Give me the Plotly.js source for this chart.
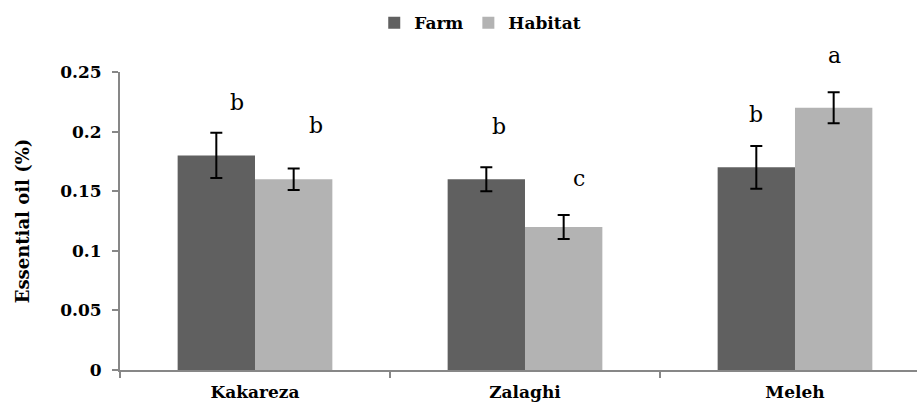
<!DOCTYPE html>
<html>
<head>
<meta charset="utf-8">
<script src="https://cdn.plot.ly/plotly-3.0.1.min.js"></script>
<style>
  html, body { margin: 0; padding: 0; background: #ffffff; }
  #chart { width: 917px; height: 403px; }
</style>
</head>
<body>
<div id="chart"></div>
<script>
// ---- data ----
var categories = ['Kakareza', 'Zalaghi', 'Meleh'];
var farmValues = [0.18, 0.16, 0.17];
var farmErrors = [0.019, 0.01, 0.018];
var habitatValues = [0.16, 0.12, 0.22];
var habitatErrors = [0.009, 0.01, 0.013];
var farmLetters = ['b', 'b', 'b'];
var habitatLetters = ['b', 'c', 'a'];
var seriesNames = ['Farm', 'Habitat'];
var yTickValues = [0, 0.05, 0.1, 0.15, 0.2, 0.25];
var yTickLabels = ['0', '0.05', '0.1', '0.15', '0.2', '0.25'];

// ---- styles ----
var serif = '"DejaVu Serif", serif';
var farmColor = '#606060';
var habitatColor = '#b3b3b3';
var axisColor = '#878787';
var farmLetterShift = { x: [21, 13, 0], y: [30, 41, 31] };
var habitatLetterShift = { x: [22, 15, 1], y: [43, 37, 37] };
var groupOffset = 0.143; // half group offset in category units

function errBar(arr) {
  return { type: 'data', array: arr, visible: true, color: '#000000', thickness: 2, width: 6 };
}

var traces = [
  {
    type: 'bar', name: seriesNames[0], x: categories, y: farmValues,
    marker: { color: farmColor }, error_y: errBar(farmErrors)
  },
  {
    type: 'bar', name: seriesNames[1], x: categories, y: habitatValues,
    marker: { color: habitatColor }, error_y: errBar(habitatErrors)
  }
];

var annotations = [];
categories.forEach(function (c, i) {
  annotations.push({
    xref: 'x', yref: 'y', x: i - groupOffset, y: farmValues[i] + farmErrors[i],
    text: farmLetters[i], showarrow: false, xanchor: 'center', yanchor: 'middle',
    xshift: farmLetterShift.x[i], yshift: farmLetterShift.y[i],
    font: { family: serif, size: 22, color: '#000000' }
  });
  annotations.push({
    xref: 'x', yref: 'y', x: i + groupOffset, y: habitatValues[i] + habitatErrors[i],
    text: habitatLetters[i], showarrow: false, xanchor: 'center', yanchor: 'middle',
    xshift: habitatLetterShift.x[i], yshift: habitatLetterShift.y[i],
    font: { family: serif, size: 22, color: '#000000' }
  });
});

var layout = {
  width: 917, height: 403,
  margin: { l: 120, r: 0, t: 72, b: 33, pad: 0 },
  paper_bgcolor: '#ffffff', plot_bgcolor: '#ffffff',
  font: { family: serif, color: '#000000' },
  barmode: 'group', bargap: 0.427, bargroupgap: 0,
  showlegend: true,
  legend: {
    orientation: 'h', x: 0.452, xanchor: 'center', y: 1.164, yanchor: 'middle',
    font: { family: serif, size: 17, color: '#000000', weight: 'bold' },
    itemwidth: 30, tracegroupgap: 0, bgcolor: 'rgba(0,0,0,0)'
  },
  xaxis: {
    type: 'category', range: [-0.5, 2.4519], fixedrange: true,
    showline: true, linecolor: axisColor, linewidth: 2,
    ticks: 'outside', tickson: 'boundaries', ticklen: 6, tickcolor: axisColor, tickwidth: 2,
    showgrid: false, zeroline: false,
    ticklabelstandoff: 6,
    tickfont: { family: serif, size: 17, color: '#000000', weight: 'bold' }
  },
  yaxis: {
    range: [0, 0.25], fixedrange: true,
    tickvals: yTickValues, ticktext: yTickLabels,
    showline: true, linecolor: axisColor, linewidth: 2,
    ticks: 'outside', ticklen: 6, tickcolor: axisColor, tickwidth: 2,
    showgrid: false, zeroline: false,
    ticklabelstandoff: 7,
    tickfont: { family: serif, size: 17, color: '#000000', weight: 'bold' },
    title: { text: 'Essential oil (%)', standoff: 26,
             font: { family: serif, size: 18, color: '#000000', weight: 'bold' } }
  },
  annotations: annotations
};

Plotly.newPlot('chart', traces, layout, { displayModeBar: false, staticPlot: true });
</script>
</body>
</html>
